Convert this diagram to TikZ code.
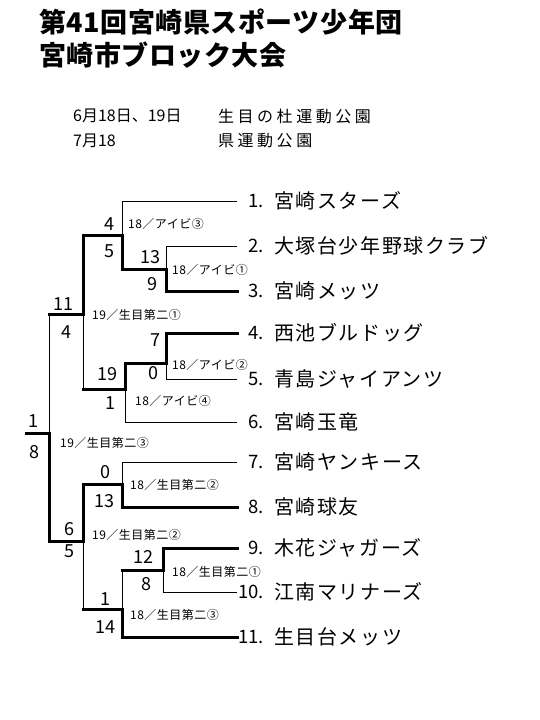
\documentclass[tikz,border=0pt]{standalone}
\usepackage{fontspec}
\setmainfont{Noto Sans CJK JP}
\newfontfamily\titlefont[LetterSpace=2]{Noto Sans CJK JP}
\newfontfamily\datefont{Noto Sans CJK JP}
\newfontfamily\datespaced[LetterSpace=22]{Noto Sans CJK JP}
\newfontfamily\teamfont[LetterSpace=8]{Noto Sans CJK JP}
\newfontfamily\labfont[LetterSpace=4]{Noto Sans CJK JP}
\tikzset{
  lose/.style={line width=0.8pt},
  win/.style={line width=3pt, line cap=rect},
  score/.style={inner sep=0pt, font=\fontsize{18pt}{20pt}\selectfont},
  lab/.style={inner sep=0pt, anchor=west, font=\labfont\fontsize{12pt}{14pt}\selectfont},
  tnum/.style={inner sep=0pt, anchor=east, font=\fontsize{18.5pt}{22pt}\selectfont},
  tname/.style={inner sep=0pt, anchor=west, font=\teamfont\fontsize{20pt}{24pt}\selectfont},
  ttl/.style={inner sep=0pt, anchor=west, font=\titlefont\bfseries\fontsize{27pt}{30pt}\selectfont},
  dt/.style={inner sep=0pt, anchor=west, font=\datefont\fontsize{16pt}{18pt}\selectfont},
  dts/.style={inner sep=0pt, anchor=west, font=\datespaced\fontsize{16pt}{18pt}\selectfont}
}
\begin{document}
\begin{tikzpicture}[x=1pt,y=-1pt]
\useasboundingbox[fill=white] (0,0) rectangle (540,720);
% title
\node[ttl] (title1) at (39,22) {第41回宮崎県スポーツ少年団};
\node[ttl] (title2) at (39,55) {宮崎市ブロック大会};
% dates
\node[dt] (d1) at (73,116) {6月18日、19日};
\node[dts] (p1) at (218,116) {生目の杜運動公園};
\node[dt] (d2) at (73,141) {7月18};
\node[dts] (p2) at (218,141) {県運動公園};
% teams
\foreach \i/\y/\nm in {1/201/宮崎スターズ,2/246/大塚台少年野球クラブ,3/291/宮崎メッツ,4/333/西池ブルドッグ,5/379/青島ジャイアンツ,6/422/宮崎玉竜,7/462/宮崎ヤンキース,8/507/宮崎球友,9/548/木花ジャガーズ,10/592/江南マリナーズ,11/637/生目台メッツ}{
  \coordinate (e\i) at (237,\y);
  \node[tnum] (n\i) at (264,\y) {\i.};
  \node[tname] (t\i) at (274,\y) {\nm};
}
% junctions
\coordinate (A) at (166,269); \coordinate (Aj) at (122,269);
\coordinate (B) at (122,235); \coordinate (Bj) at (83,235);
\coordinate (C) at (166,363); \coordinate (Cj) at (125,363);
\coordinate (D) at (125,389); \coordinate (Dj) at (83,389);
\coordinate (S1) at (83,314); \coordinate (S1j) at (49,314);
\coordinate (E) at (122,484); \coordinate (Ej) at (83,484);
\coordinate (F) at (163,570); \coordinate (Fj) at (122,570);
\coordinate (G) at (122,609); \coordinate (Gj) at (83,609);
\coordinate (S2) at (83,541); \coordinate (S2j) at (49,541);
\coordinate (Fin) at (49,433); \coordinate (FinE) at (26,433);
% losing lines
\draw[lose] (e1) -| (B);
\draw[lose] (e2) -| (A);
\draw[lose] (e5) -| (C);
\draw[lose] (e6) -| (D);
\draw[lose] (Dj) -- (S1);
\draw[lose] (S1j) -- (Fin);
\draw[lose] (e7) -| (E);
\draw[lose] (e10) -| (F);
\draw[lose] (Fj) -- (G);
\draw[lose] (S2) -- (Gj);
% winning lines
\draw[win] (e3) -| (A) -- (Aj) -- (B) -- (Bj) -- (S1) -- (S1j);
\draw[win] (e4) -| (C) -- (Cj) -- (D) -- (Dj);
\draw[win] (FinE) -- (Fin) -- (S2j) -- (S2) -- (Ej) -- (E) |- (e8);
\draw[win] (e9) -| (F) -- (Fj);
\draw[win] (Gj) -- (G) |- (e11);
% scores
\node[score] (sa1) at (150,257) {13};
\node[score] (sa2) at (152,284) {9};
\node[score] (sb1) at (109,224) {4};
\node[score] (sb2) at (109,251) {5};
\node[score] (sc1) at (155,340) {7};
\node[score] (sc2) at (153,373) {0};
\node[score] (sd1) at (107,374) {19};
\node[score] (sd2) at (110,403) {1};
\node[score] (ss1) at (63,304) {11};
\node[score] (ss2) at (66,332) {4};
\node[score] (sf1) at (33,421) {1};
\node[score] (sf2) at (34,452) {8};
\node[score] (se1) at (105,472) {0};
\node[score] (se2) at (104,501) {13};
\node[score] (st1) at (69,529) {6};
\node[score] (st2) at (69,551) {5};
\node[score] (sg1) at (143,557) {12};
\node[score] (sg2) at (146,584) {8};
\node[score] (sh1) at (105,599) {1};
\node[score] (sh2) at (105,627) {14};
% match labels
\node[lab] (la) at (172,270) {18／アイビ①};
\node[lab] (lb) at (128,224) {18／アイビ③};
\node[lab] (lc) at (172,365) {18／アイビ②};
\node[lab] (ld) at (135,401) {18／アイビ④};
\node[lab] (ls1) at (92,315) {19／生目第二①};
\node[lab] (lf) at (60,443) {19／生目第二③};
\node[lab] (le) at (130,485) {18／生目第二②};
\node[lab] (ls2) at (92,535) {19／生目第二②};
\node[lab] (lg) at (172,572) {18／生目第二①};
\node[lab] (lh) at (130,615) {18／生目第二③};
\end{tikzpicture}
\end{document}
